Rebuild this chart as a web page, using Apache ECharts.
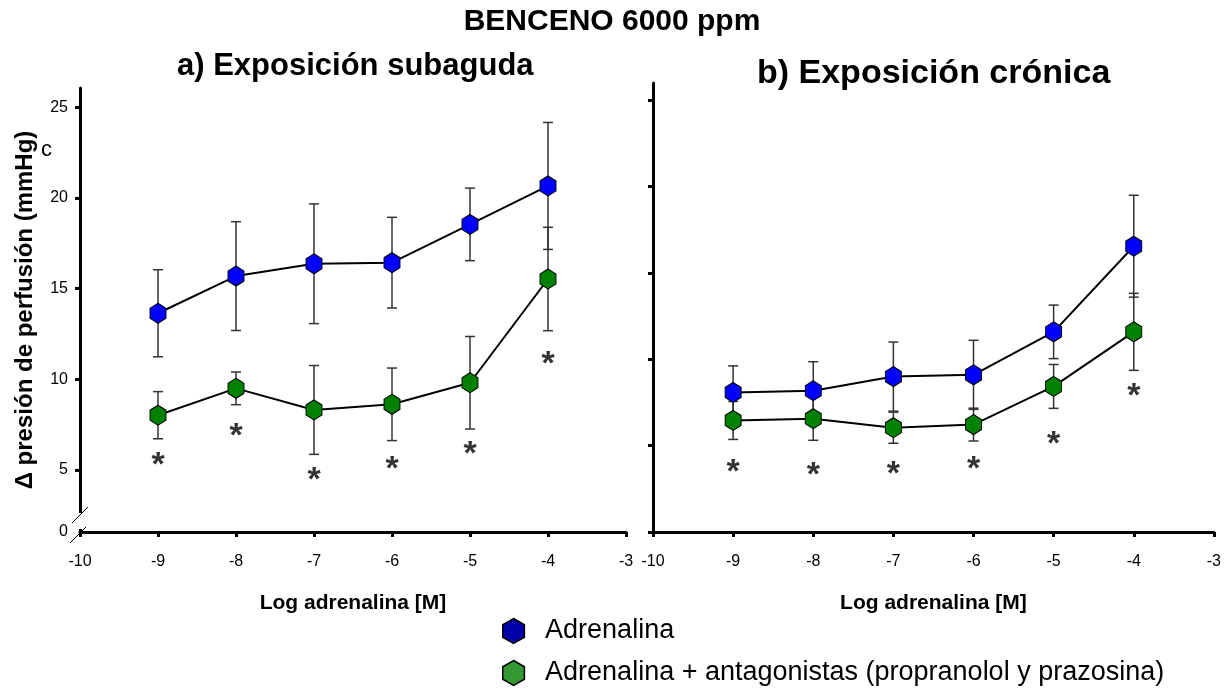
<!DOCTYPE html>
<html>
<head>
<meta charset="utf-8">
<script src="https://cdn.jsdelivr.net/npm/echarts@6/dist/echarts.min.js"></script>
<style>
  html, body { margin: 0; padding: 0; background: #fff; }
  #chart { width: 1224px; height: 696px; }
</style>
</head>
<body>
<div id="chart"></div>
<script>
  // log dose of adrenalina
  var doses = [-9, -8, -7, -6, -5, -4]
  var leftYTicks = [5, 10, 15, 20, 25]
  var rightYTicks = [0, 5, 10, 15, 20, 25]

  // a) exposicion subaguda
  var subAdr = [13.64, 15.69, 16.37, 16.43, 18.54, 20.66]
  var subAdrErr = [2.4, 3.0, 3.3, 2.5, 2.0, 3.5]
  var subAnt = [8.02, 9.5, 8.31, 8.62, 9.81, 15.53]
  var subAntErr = [1.3, 0.9, 2.45, 2.0, 2.55, 2.85]
  var subStars = [5.66, 7.26, 4.83, 5.44, 6.27, 11.23]

  // b) exposicion cronica
  var croAdr = [8.08, 8.18, 9.0, 9.1, 11.59, 16.55]
  var croAdrErr = [1.54, 1.68, 2.0, 2.0, 1.55, 2.95]
  var croAnt = [6.46, 6.56, 6.04, 6.22, 8.43, 11.59]
  var croAntErr = [1.1, 1.25, 0.9, 0.95, 1.27, 2.23]
  var croStars = [3.93, 3.75, 3.77, 4.09, 5.55, 8.33]

  var nameAdr = 'Adrenalina'
  var nameAnt = 'Adrenalina + antagonistas (propranolol y prazosina)'

  var leftMin = 1.58
  var leftMax = 26.06

  var hexagon = 'path://M0,-1L0.866,-0.5L0.866,0.5L0,1L-0.866,0.5L-0.866,-0.5Z'
  var sans = 'Liberation Sans, Arial, sans-serif'

  function pairs(ys) {
    return doses.map(function(d, i) { return [d, ys[i]] })
  }
  function errData(means, errs) {
    return doses.map(function(d, i) { return [d, means[i] - errs[i], means[i] + errs[i]] })
  }
  function renderErr(params, api) {
    var x = api.value(0)
    var lo = api.coord([x, api.value(1)])
    var hi = api.coord([x, api.value(2)])
    var hw = 5
    var style = {stroke: '#333', lineWidth: 1.5}
    return {
      type: 'group',
      children: [
        {type: 'line', shape: {x1: lo[0], y1: lo[1], x2: hi[0], y2: hi[1]}, style: style},
        {type: 'line', shape: {x1: lo[0] - hw, y1: lo[1], x2: lo[0] + hw, y2: lo[1]}, style: style},
        {type: 'line', shape: {x1: hi[0] - hw, y1: hi[1], x2: hi[0] + hw, y2: hi[1]}, style: style}
      ]
    }
  }
  function errSeries(idx, means, errs) {
    return {
      type: 'custom',
      xAxisIndex: idx,
      yAxisIndex: idx,
      renderItem: renderErr,
      encode: {x: 0, y: [1, 2]},
      data: errData(means, errs),
      silent: true,
      z: 1
    }
  }
  function lineSeries(idx, name, ys, color) {
    return {
      name: name,
      type: 'line',
      xAxisIndex: idx,
      yAxisIndex: idx,
      data: pairs(ys),
      symbol: hexagon,
      symbolSize: [16, 20],
      lineStyle: {color: '#000', width: 2},
      itemStyle: {color: color, borderColor: '#000', borderWidth: 1},
      z: 3
    }
  }
  function starSeries(idx, ys) {
    return {
      type: 'scatter',
      xAxisIndex: idx,
      yAxisIndex: idx,
      data: pairs(ys),
      symbol: 'circle',
      symbolSize: 1,
      itemStyle: {color: 'rgba(0,0,0,0)'},
      silent: true,
      label: {
        show: true,
        position: 'inside',
        formatter: '*',
        color: '#000',
        fontSize: 34,
        fontWeight: 'bold',
        fontFamily: sans,
        offset: [0, 8]
      },
      z: 4
    }
  }

  var axisLineStyle = {color: '#000', width: 3}
  var tickStyle = {show: true, length: 5, lineStyle: {color: '#000', width: 3}}
  var labelStyle = {color: '#000', fontSize: 16, fontFamily: sans}
  var xNameStyle = {color: '#000', fontSize: 21, fontWeight: 'bold', fontFamily: sans}

  function xAxis(idx) {
    return {
      type: 'value',
      gridIndex: idx,
      min: -10,
      max: -3,
      interval: 1,
      name: 'Log adrenalina [M]',
      nameLocation: 'middle',
      nameGap: 61,
      nameTextStyle: xNameStyle,
      axisLine: {lineStyle: axisLineStyle},
      axisTick: tickStyle,
      axisLabel: Object.assign({margin: 22}, labelStyle),
      splitLine: {show: false}
    }
  }

  function legendRow(top, name, color) {
    return {
      orient: 'vertical',
      left: 502,
      top: top,
      padding: 0,
      itemWidth: 23,
      itemHeight: 25,
      textStyle: {color: '#000', fontSize: 27, lineHeight: 30, fontFamily: sans, padding: [0, 0, 0, 15]},
      data: [{name: name, icon: hexagon, itemStyle: {color: color, borderColor: '#000', borderWidth: 1.5}}]
    }
  }

  var chart = echarts.init(document.getElementById('chart'))
  var option = {
    backgroundColor: '#fff',
    animation: false,
    title: [
      {text: 'BENCENO 6000 ppm', left: 'center', top: 2,
        textStyle: {color: '#000', fontSize: 30, fontWeight: 'bold', fontFamily: sans}},
      {text: 'a) Exposición subaguda', left: 172, top: 46,
        textStyle: {color: '#000', fontSize: 31, fontWeight: 'bold', fontFamily: sans}},
      {text: 'b) Exposición crónica', left: 752, top: 52,
        textStyle: {color: '#000', fontSize: 34, fontWeight: 'bold', fontFamily: sans}},
      {text: 'c', left: 36, top: 134,
        textStyle: {color: '#000', fontSize: 22, fontWeight: 'normal', fontFamily: sans}}
    ],
    legend: [
      legendRow(616, nameAdr, '#0000a8'),
      legendRow(658, nameAnt, '#339933')
    ],
    grid: [
      {left: 80, right: 598, top: 88, bottom: 164},
      {left: 653, right: 9, top: 83, bottom: 164}
    ],
    xAxis: [xAxis(0), xAxis(1)],
    yAxis: [
      {
        type: 'value',
        gridIndex: 0,
        min: leftMin,
        max: leftMax,
        name: 'Δ presión de perfusión (mmHg)',
        nameLocation: 'middle',
        nameGap: 43,
        nameRotate: 90,
        nameTextStyle: {color: '#000', fontSize: 24, fontWeight: 'bold', fontFamily: sans},
        axisLine: {lineStyle: axisLineStyle},
        axisTick: Object.assign({customValues: leftYTicks}, tickStyle),
        axisLabel: Object.assign({
          customValues: [leftMin].concat(leftYTicks),
          margin: 12,
          formatter: function(v) { return v < 2 ? '0' : String(v) }
        }, labelStyle),
        splitLine: {show: false}
      },
      {
        type: 'value',
        gridIndex: 1,
        min: 0,
        max: 26,
        axisLine: {lineStyle: axisLineStyle},
        axisTick: Object.assign({customValues: rightYTicks}, tickStyle),
        axisLabel: {show: false},
        splitLine: {show: false}
      }
    ],
    series: [
      errSeries(0, subAdr, subAdrErr),
      errSeries(0, subAnt, subAntErr),
      lineSeries(0, nameAdr, subAdr, '#0000ff'),
      lineSeries(0, nameAnt, subAnt, '#008000'),
      starSeries(0, subStars),
      errSeries(1, croAdr, croAdrErr),
      errSeries(1, croAnt, croAntErr),
      lineSeries(1, nameAdr, croAdr, '#0000ff'),
      lineSeries(1, nameAnt, croAnt, '#008000'),
      starSeries(1, croStars)
    ]
  }
  chart.setOption(option)

  // axis break on the left y axis, placed from the axis corner
  var corner = chart.convertToPixel({gridIndex: 0}, [-10, leftMin])
  var cx = corner[0]
  var cy = corner[1]
  chart.setOption({
    graphic: [
      {type: 'rect', shape: {x: cx - 4, y: cy - 19, width: 8, height: 16}, style: {fill: '#fff'}, z: 100},
      {type: 'line', shape: {x1: cx - 8, y1: cy - 9, x2: cx + 8, y2: cy - 25}, style: {stroke: '#000', lineWidth: 1}, z: 101},
      {type: 'line', shape: {x1: cx - 10, y1: cy + 11, x2: cx + 6, y2: cy - 5}, style: {stroke: '#000', lineWidth: 1}, z: 101}
    ]
  })
</script>
</body>
</html>
